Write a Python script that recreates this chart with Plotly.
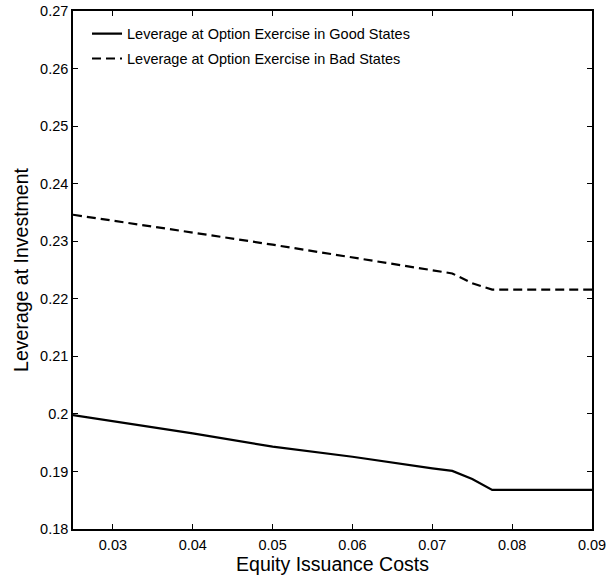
import plotly.graph_objects as go

# Equity issuance cost grid and leverage at investment
cost_good = [0.025, 0.03, 0.04, 0.05, 0.06, 0.07, 0.0725, 0.075, 0.0775, 0.08, 0.09]
lev_good = [0.1998, 0.19875, 0.1966, 0.1943, 0.19255, 0.19054, 0.1901, 0.1887, 0.1868, 0.1868, 0.1868]

cost_bad = [0.025, 0.03, 0.04, 0.05, 0.06, 0.07, 0.0725, 0.075, 0.0775, 0.08, 0.09]
lev_bad = [0.2346, 0.2336, 0.2315, 0.2294, 0.2272, 0.2250, 0.2244, 0.2227, 0.2216, 0.2216, 0.2216]

x_ticks = [0.03, 0.04, 0.05, 0.06, 0.07, 0.08, 0.09]
x_labels = ["0.03", "0.04", "0.05", "0.06", "0.07", "0.08", "0.09"]
y_ticks = [0.18, 0.19, 0.20, 0.21, 0.22, 0.23, 0.24, 0.25, 0.26, 0.27]
y_labels = ["0.18", "0.19", "0.2", "0.21", "0.22", "0.23", "0.24", "0.25", "0.26", "0.27"]

FONT = "Liberation Sans, Arial, Helvetica, sans-serif"

fig = go.Figure()
fig.add_trace(go.Scatter(
    x=cost_good, y=lev_good, mode="lines",
    name="Leverage at Option Exercise in Good States",
    legendgroup="good",
    line=dict(color="black", width=2.2),
))
fig.add_trace(go.Scatter(
    x=cost_bad, y=lev_bad, mode="lines",
    name="Leverage at Option Exercise in Bad States",
    legendgroup="bad",
    line=dict(color="black", width=2.2, dash="9px,5px"),
))

axis_common = dict(
    showline=True, linecolor="black", linewidth=1.5, mirror="ticks",
    ticks="inside", ticklen=5, tickcolor="black", tickwidth=1,
    showgrid=False, zeroline=False, automargin=False,
    ticklabeloverflow="allow",
    tickfont=dict(family=FONT, size=14.5, color="black"),
)

fig.update_layout(
    width=606, height=578,
    margin=dict(l=73, r=14, t=11, b=49),
    paper_bgcolor="white", plot_bgcolor="white",
    font=dict(family=FONT, color="black"),
    xaxis=dict(
        range=[0.025, 0.09], tickvals=x_ticks, ticktext=x_labels,
        title=dict(text="Equity Issuance Costs", font=dict(family=FONT, size=19.5), standoff=2),
        ticklabelstandoff=2,
        **axis_common,
    ),
    yaxis=dict(
        range=[0.18, 0.27], tickvals=y_ticks, ticktext=y_labels,
        title=dict(text="Leverage at Investment", font=dict(family=FONT, size=19.5), standoff=6),
        **axis_common,
    ),
    legend=dict(
        x=0.027, y=0.987, xanchor="left", yanchor="top",
        bgcolor="rgba(255,255,255,0)", borderwidth=0,
        font=dict(family=FONT, size=14.5, color="black"),
        traceorder="grouped", tracegroupgap=3, itemwidth=30,
    ),
    showlegend=True,
)

fig.write_html("out.html")
